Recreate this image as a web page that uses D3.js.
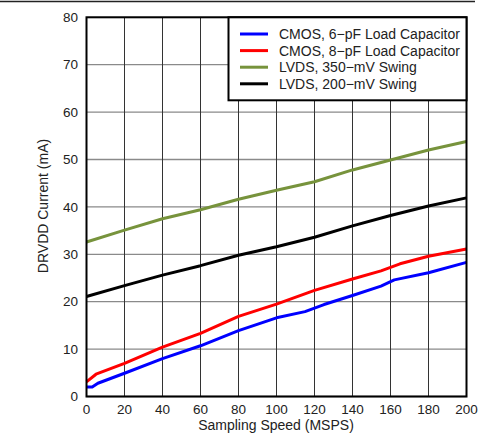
<!DOCTYPE html>
<meta charset="utf-8">

<style>
    body { margin: 0; background: white; }
    text { font-family: "Liberation Sans", Arial, sans-serif; fill: #222; }
</style>

<body>

<script src="https://d3js.org/d3.v7.min.js"></script>

<script>

    // data
    var seriesNames = ["CMOS, 6\u2212pF Load Capacitor", "CMOS, 8\u2212pF Load Capacitor", "LVDS, 350\u2212mV Swing", "LVDS, 200\u2212mV Swing"]
    var seriesColors = ["#0000ff", "#ff0000", "#77933c", "#000000"]

    var cmos6 = [[0, 2.0], [3, 2.0], [6, 2.8], [20, 4.9], [40, 8.0], [60, 10.7], [80, 13.9], [100, 16.6], [115, 17.9], [125, 19.4], [140, 21.3], [155, 23.3], [162, 24.6], [180, 26.1], [200, 28.3]]
    var cmos8 = [[0, 3.1], [5, 4.7], [20, 7.0], [40, 10.4], [60, 13.3], [80, 16.9], [100, 19.5], [120, 22.4], [140, 24.8], [155, 26.5], [165, 28.0], [180, 29.6], [200, 31.1]]
    var lvds350 = [[0, 32.6], [20, 35.1], [40, 37.5], [60, 39.4], [80, 41.6], [100, 43.5], [120, 45.3], [140, 47.8], [160, 49.9], [180, 52.0], [200, 53.8]]
    var lvds200 = [[0, 21.1], [20, 23.4], [40, 25.6], [60, 27.6], [80, 29.8], [100, 31.6], [120, 33.6], [140, 36.0], [160, 38.2], [180, 40.2], [200, 41.9]]

    var xTicks = [0, 20, 40, 60, 80, 100, 120, 140, 160, 180, 200]
    var yTicks = [0, 10, 20, 30, 40, 50, 60, 70, 80]

    var allSeries = [cmos6, cmos8, lvds350, lvds200]

    // plot box (avoid "top" - it is a window global)
    var plotLeft = 86.5, plotRight = 466.5, plotTop = 17.3, plotBottom = 396.5

    var svg = d3.select("body")
        .append("svg")
        .attr("width", 479)
        .attr("height", 439)

    // rule at the very top of the page
    svg.append("line")
        .attr("x1", 0).attr("x2", 475)
        .attr("y1", 1.5).attr("y2", 1.5)
        .attr("stroke", "#222")
        .attr("stroke-width", 1.5)

    var x = d3.scaleLinear().domain([0, 200]).range([plotLeft, plotRight])
    var y = d3.scaleLinear().domain([0, 80]).range([plotBottom, plotTop])

    // horizontal grid (grey)
    svg.append("g")
        .selectAll("line")
        .data(yTicks)
        .enter()
        .append("line")
        .attr("x1", plotLeft).attr("x2", plotRight)
        .attr("y1", function (d) { return y(d) })
        .attr("y2", function (d) { return y(d) })
        .attr("stroke", "#8a8a8a")
        .attr("stroke-width", 1.3)

    // vertical grid (dark)
    svg.append("g")
        .selectAll("line")
        .data(xTicks)
        .enter()
        .append("line")
        .attr("x1", function (d) { return x(d) })
        .attr("x2", function (d) { return x(d) })
        .attr("y1", plotTop).attr("y2", plotBottom)
        .attr("stroke", "#333")
        .attr("stroke-width", 1)

    // tick labels
    svg.append("g")
        .selectAll("text")
        .data(xTicks)
        .enter()
        .append("text")
        .text(function (d) { return d })
        .attr("x", function (d) { return x(d) })
        .attr("y", 413.5)
        .attr("text-anchor", "middle")
        .attr("font-size", "13.5px")

    svg.append("g")
        .selectAll("text")
        .data(yTicks)
        .enter()
        .append("text")
        .text(function (d) { return d })
        .attr("x", 78)
        .attr("y", function (d) { return y(d) + 4.7 })
        .attr("text-anchor", "end")
        .attr("font-size", "13.5px")

    // axis titles
    svg.append("text")
        .text("Sampling Speed (MSPS)")
        .attr("x", 276)
        .attr("y", 429.5)
        .attr("text-anchor", "middle")
        .attr("font-size", "14px")

    svg.append("text")
        .text("DRVDD Current (mA)")
        .attr("transform", "translate(48, 206) rotate(-90)")
        .attr("text-anchor", "middle")
        .attr("font-size", "14px")

    // series lines
    var line = d3.line()
        .x(function (d) { return x(d[0]) })
        .y(function (d) { return y(d[1]) })

    svg.append("g")
        .selectAll("path")
        .data(allSeries)
        .enter()
        .append("path")
        .attr("d", line)
        .attr("fill", "none")
        .attr("stroke", function (d, i) { return seriesColors[i] })
        .attr("stroke-width", 3)
        .attr("stroke-linejoin", "round")

    // plot frame
    svg.append("rect")
        .attr("x", plotLeft).attr("y", plotTop)
        .attr("width", plotRight - plotLeft).attr("height", plotBottom - plotTop)
        .attr("fill", "none")
        .attr("stroke", "#000")
        .attr("stroke-width", 2)

    // legend
    var legend = svg.append("g")

    legend.append("rect")
        .attr("x", 228.5).attr("y", plotTop)
        .attr("width", plotRight - 228.5).attr("height", 83)
        .attr("fill", "white")
        .attr("stroke", "#000")
        .attr("stroke-width", 2)

    var rows = legend.selectAll("g.row")
        .data(seriesNames)
        .enter()
        .append("g")
        .attr("class", "row")
        .attr("transform", function (d, i) { return "translate(0," + (34 + i * 16.6) + ")" })

    rows.append("line")
        .attr("x1", 240).attr("x2", 268)
        .attr("y1", 0).attr("y2", 0)
        .attr("stroke", function (d, i) { return seriesColors[i] })
        .attr("stroke-width", 3)

    rows.append("text")
        .text(function (d) { return d })
        .attr("x", 279)
        .attr("y", 5)
        .attr("font-size", "14px")

</script>
</body>
